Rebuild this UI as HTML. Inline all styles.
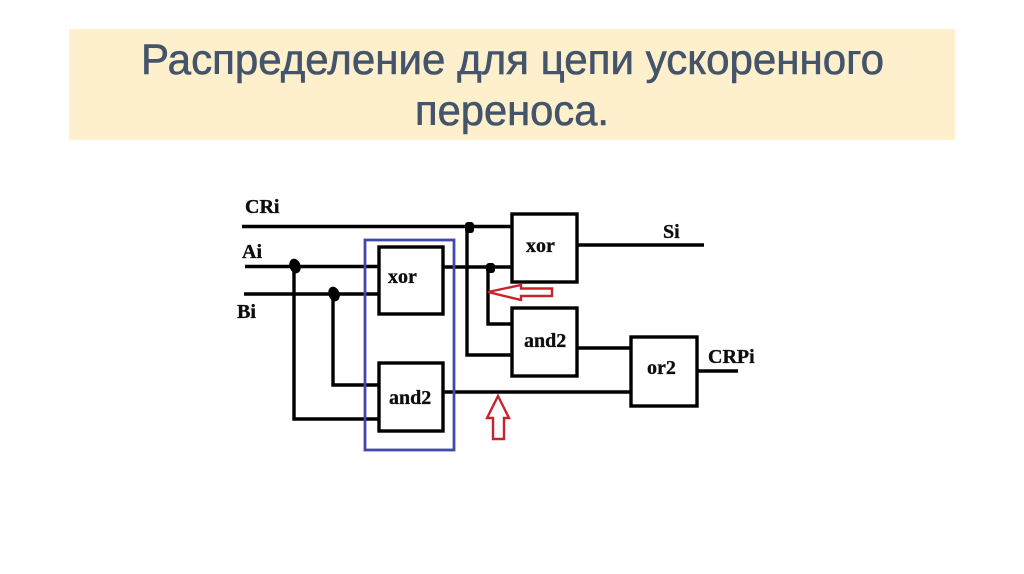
<!DOCTYPE html>
<html lang="ru">
<head>
<meta charset="utf-8">
<title>Распределение для цепи ускоренного переноса</title>
<style>
html,body{margin:0;padding:0;background:#fff;width:1024px;height:574px;overflow:hidden}
svg{display:block}
.t{font-family:"Liberation Sans","DejaVu Sans",sans-serif;font-size:43px;fill:#44546a;stroke:#44546a;stroke-width:.6}
.l{font-family:"Liberation Serif",serif;font-weight:bold;font-size:20px;fill:#111;stroke:#111;stroke-width:.35}
.b{fill:#fff;stroke:#000;stroke-width:3.400}
.w{fill:none;stroke:#000;stroke-width:3.400}
</style>
</head>
<body>
<svg width="1024" height="574" viewBox="0 0 1024 574" xmlns="http://www.w3.org/2000/svg">
<defs><filter id="s" filterUnits="userSpaceOnUse" x="200" y="180" width="600" height="300"><feGaussianBlur stdDeviation="0.3"/></filter></defs>
<rect x="69" y="29" width="886" height="111" fill="#fff0cd"/>
<text class="t" x="141" y="74" textLength="743" lengthAdjust="spacingAndGlyphs">Распределение для цепи ускоренного</text>
<text class="t" x="415" y="125" textLength="194" lengthAdjust="spacingAndGlyphs">переноса.</text>

<g filter="url(#s)">
<path class="w" d="M242 226.500H512M245 266.500H379M244 294H379M294 266V419H379M333 294V385H379M443 267H512M467 226V355H512M443 392H631M488 267V324H512M577 348H631M577 245H704M697 371H738"/>

<rect class="b" x="379" y="247" width="64" height="67"/>
<rect class="b" x="379" y="363" width="64" height="68"/>
<rect class="b" x="512" y="214" width="65" height="68"/>
<rect class="b" x="512" y="308" width="65" height="68"/>
<rect class="b" x="631" y="337" width="66" height="69"/>

<rect x="365" y="240" width="89" height="210" fill="none" stroke="#4249a8" stroke-width="2.800"/>

<ellipse cx="295" cy="266" rx="5.500" ry="7.500" fill="#000" transform="rotate(-20 295 266)"/>
<ellipse cx="334" cy="294" rx="5.500" ry="7.500" fill="#000" transform="rotate(-20 334 294)"/>
<rect x="465" y="222" width="9" height="11" rx="3" fill="#000"/>
<rect x="486" y="263" width="9" height="10" rx="3" fill="#000"/>

<path d="M488 292L521 285V288.500H552V296H521V300Z" fill="#fff" stroke="#c8222c" stroke-width="2.400"/>
<path d="M498 396L509 418H504V439H493V418H487Z" fill="#fff" stroke="#c8222c" stroke-width="2.400"/>

<text class="l" x="245" y="213">CRi</text>
<text class="l" x="242" y="258">Ai</text>
<text class="l" x="237" y="318">Bi</text>
<text class="l" x="388" y="283">xor</text>
<text class="l" x="389" y="404">and2</text>
<text class="l" x="526" y="252">xor</text>
<text class="l" x="524" y="347">and2</text>
<text class="l" x="647" y="374">or2</text>
<text class="l" x="663" y="238">Si</text>
<text class="l" x="708" y="363">CRPi</text>
</g>
</svg>
</body>
</html>
